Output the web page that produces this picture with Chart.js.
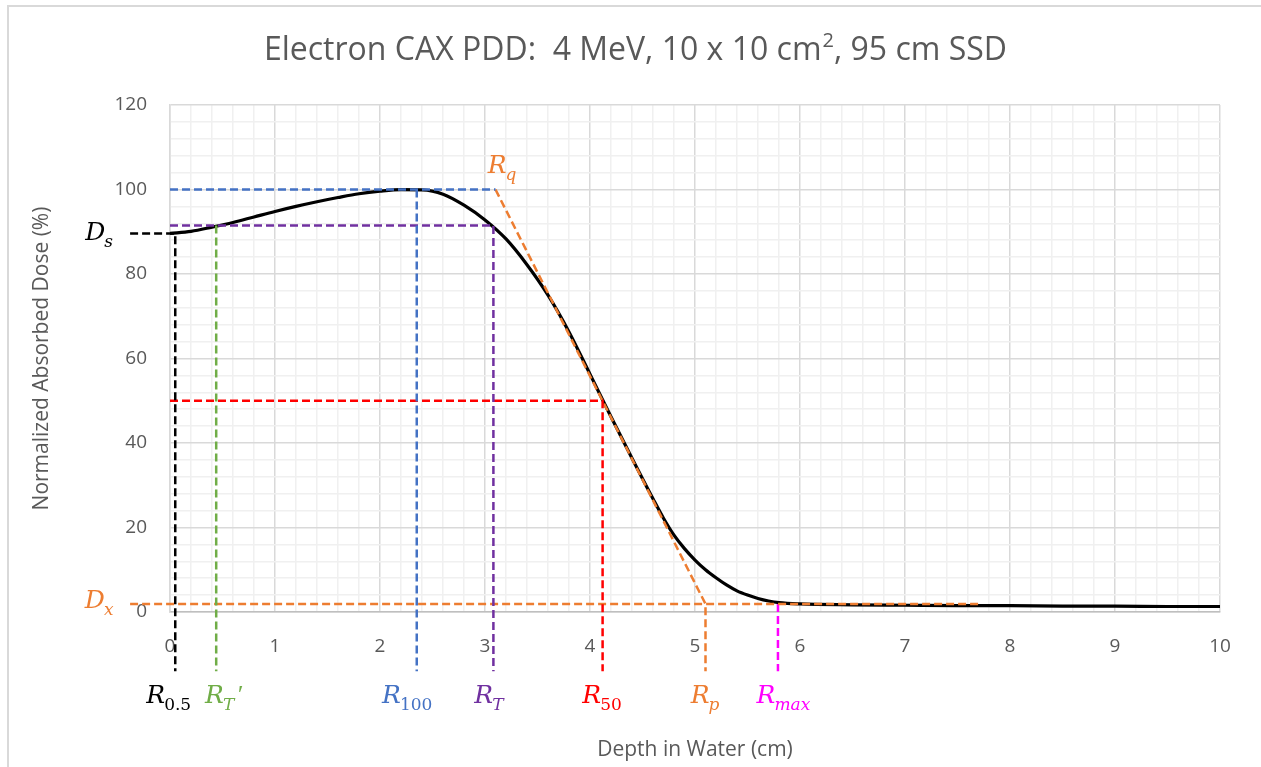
<!DOCTYPE html>
<html>
<head>
<meta charset="utf-8">
<script src="https://cdn.jsdelivr.net/npm/chart.js@4.4.1/dist/chart.umd.min.js"></script>
<style>
  html, body { margin: 0; padding: 0; background: #fff; }
  #wrap { width: 1261px; height: 767px; position: relative; }
</style>
</head>
<body>
<div id="wrap"><canvas id="pdd"></canvas></div>
<script>
// depth dose curve
const depth = [0, 0.2, 0.4, 0.6, 0.8, 1.0, 1.2, 1.4, 1.6, 1.8, 2.0, 2.2, 2.4, 2.6, 2.8, 3.0, 3.2, 3.4, 3.6, 3.8, 4.0, 4.2, 4.4, 4.6, 4.7, 4.8, 4.9, 5.0, 5.1, 5.2, 5.3, 5.4, 5.5, 5.6, 5.7, 5.8, 6.0, 6.5, 7, 7.5, 8, 8.5, 9, 9.5, 10];
const dose = [89.6, 90.1, 91.1, 92.2, 93.5, 94.8, 96.0, 97.1, 98.1, 99.0, 99.6, 99.95, 99.9, 98.9, 96.3, 92.8, 88.3, 82.2, 75.0, 66.3, 56.3, 46.2, 36.4, 26.8, 22.2, 18.2, 15.0, 12.3, 10.0, 8.1, 6.4, 5.0, 4.0, 3.2, 2.6, 2.2, 1.9, 1.7, 1.6, 1.5, 1.5, 1.4, 1.4, 1.3, 1.3];

const xTickLabels = ['0', '1', '2', '3', '4', '5', '6', '7', '8', '9', '10'];
const yTickLabels = ['0', '20', '40', '60', '80', '100', '120'];

// characteristic depths (cm) and doses (%)
const r05 = 0.05, rTprime = 0.44, r100 = 2.35, rT = 3.08, r50 = 4.12, rq = 3.1, rp = 5.1, rmax = 5.79;
const dS = 89.6, dT = 91.5, d100 = 100, d50 = 50, dX = 1.9;
// how far the guide lines run past the axes
const lowEnd = -14, leftEnd = -0.38, dxEnd = 7.71;

const orange = '#ed7d31', blue = '#4472c4', purple = '#7030a0', green = '#70ad47', red = '#ff0000', magenta = '#ff00ff';

function guide(color, pts) {
  return {
    type: 'line',
    data: pts.map(p => ({ x: p[0], y: p[1] })),
    borderColor: color,
    borderWidth: 2.5,
    borderDash: [8, 4],
    pointRadius: 0,
    tension: 0,
    fill: false,
    clip: false,
    order: 0
  };
}

const labels = [
  { x: r05, y: -21.5, dx: -6, color: '#000', main: 'R', sub: '0.5', subItalic: false },
  { x: rTprime, y: -21.5, dx: 8, color: green, main: 'R', sub: 'T', subItalic: true, prime: true },
  { x: r100, y: -21.5, dx: -9, color: blue, main: 'R', sub: '100', subItalic: false },
  { x: rT, y: -21.5, dx: -4, color: purple, main: 'R', sub: 'T', subItalic: true },
  { x: r50, y: -21.5, dx: 0, color: red, main: 'R', sub: '50', subItalic: false },
  { x: rp, y: -21.5, dx: 0, color: orange, main: 'R', sub: 'p', subItalic: true },
  { x: rmax, y: -21.5, dx: 6, color: magenta, main: 'R', sub: 'max', subItalic: true },
  { x: rq, y: 104, dx: 7, color: orange, main: 'R', sub: 'q', subItalic: true },
  { x: -0.67, y: 88, dx: 0, color: '#000', main: 'D', sub: 's', subItalic: true },
  { x: -0.67, y: 0.95, dx: 0, color: orange, main: 'D', sub: 'x', subItalic: true }
];

const decor = {
  id: 'decor',
  afterDraw(chart) {
    const ctx = chart.ctx;
    const xs = chart.scales.x, ys = chart.scales.y;
    ctx.save();
    // chart frame
    ctx.strokeStyle = '#d9d9d9';
    ctx.lineWidth = 2;
    ctx.beginPath();
    ctx.moveTo(8, 767);
    ctx.lineTo(8, 6);
    ctx.lineTo(1261, 6);
    ctx.stroke();

    // title with superscript
    ctx.fillStyle = '#595959';
    ctx.textBaseline = 'alphabetic';
    const big = '32px "Open Sans"', small = '20px "Open Sans"';
    const p1 = 'Electron CAX PDD:  4 MeV, 10 x 10 cm', p2 = '2', p3 = ', 95 cm SSD';
    ctx.font = big;
    const w1 = ctx.measureText(p1).width, w3 = ctx.measureText(p3).width;
    ctx.font = small;
    const w2 = ctx.measureText(p2).width;
    let tx = 635 - (w1 + w2 + w3) / 2;
    const ty = 60;
    ctx.font = big; ctx.fillText(p1, tx, ty); tx += w1;
    ctx.font = small; ctx.fillText(p2, tx + 1, ty - 13); tx += w2 + 1;
    ctx.font = big; ctx.fillText(p3, tx, ty);

    // math labels
    const mainFont = 'italic 25px "DejaVu Serif"';
    labels.forEach(l => {
      const subFont = (l.subItalic ? 'italic ' : '') + '17px "DejaVu Serif"';
      ctx.font = mainFont;
      const wm = ctx.measureText(l.main).width;
      ctx.font = subFont;
      const ws = ctx.measureText(l.sub).width;
      const wp = l.prime ? 8 : 0;
      const total = wm + ws + wp;
      let x = xs.getPixelForValue(l.x) + l.dx - total / 2;
      const y = ys.getPixelForValue(l.y);
      ctx.fillStyle = l.color;
      ctx.font = mainFont; ctx.fillText(l.main, x, y); x += wm;
      ctx.font = subFont; ctx.fillText(l.sub, x - 1, y + 7); x += ws;
      if (l.prime) { ctx.font = 'italic 26px "Liberation Serif"'; ctx.fillText('\u2032', x + 1, y); }
    });
    ctx.restore();
  }
};

const isWhole = v => Math.abs(v - Math.round(v)) < 1e-6;

new Chart(document.getElementById('pdd'), {
  type: 'line',
  data: {
    datasets: [
      {
        label: 'PDD',
        data: depth.map((d, i) => ({ x: d, y: dose[i] })),
        borderColor: '#000',
        borderWidth: 3.2,
        pointRadius: 0,
        cubicInterpolationMode: 'monotone',
        fill: false,
        order: 1
      },
      guide('#000', [[leftEnd, dS], [r05, dS], [r05, lowEnd]]),
      guide(green, [[rTprime, dT], [rTprime, lowEnd]]),
      guide(blue, [[0, d100], [rq, d100]]),
      guide(blue, [[r100, d100], [r100, lowEnd]]),
      guide(purple, [[0, dT], [rT, dT], [rT, lowEnd]]),
      guide(red, [[0, d50], [r50, d50], [r50, lowEnd]]),
      guide(orange, [[rq, d100], [rp, dX], [rp, lowEnd]]),
      guide(orange, [[leftEnd, dX], [dxEnd, dX]]),
      guide(magenta, [[rmax, dX], [rmax, lowEnd]])
    ]
  },
  options: {
    responsive: true,
    maintainAspectRatio: false,
    animation: false,
    layout: { padding: { top: 105, right: 41, left: 0, bottom: 0 } },
    plugins: { legend: { display: false }, tooltip: { enabled: false } },
    scales: {
      x: {
        type: 'linear',
        min: 0,
        max: 10,
        afterFit: s => { s.height = 155; },
        ticks: {
          stepSize: 0.2,
          autoSkip: false,
          maxRotation: 0,
          padding: 23,
          color: '#595959',
          font: { family: 'Open Sans', size: 19 },
          callback: v => isWhole(v) ? xTickLabels[Math.round(v)] : ''
        },
        grid: {
          drawTicks: false,
          color: c => isWhole(c.tick.value) ? '#d9d9d9' : '#f0f0f0',
          lineWidth: 1.5
        },
        border: { color: '#bfbfbf', width: 1.5 },
        title: {
          display: true,
          text: 'Depth in Water (cm)',
          color: '#595959',
          font: { family: 'Open Sans', size: 21 },
          padding: { top: 9 }
        }
      },
      y: {
        type: 'linear',
        min: 0,
        max: 120,
        afterFit: s => { s.width = 170; },
        ticks: {
          stepSize: 4,
          autoSkip: false,
          padding: 23,
          color: '#595959',
          font: { family: 'Open Sans', size: 19 },
          callback: v => (Math.round(v) % 20 === 0) ? yTickLabels[Math.round(v) / 20] : ''
        },
        grid: {
          drawTicks: false,
          color: c => (Math.round(c.tick.value) % 20 === 0) ? '#d9d9d9' : '#f0f0f0',
          lineWidth: 1.5
        },
        border: { color: '#d9d9d9', width: 1.5 },
        title: {
          display: true,
          text: 'Normalized Absorbed Dose (%)',
          color: '#595959',
          font: { family: 'Open Sans', size: 21 },
          padding: { top: 29 }
        }
      }
    }
  },
  plugins: [decor]
});
</script>
</body>
</html>
